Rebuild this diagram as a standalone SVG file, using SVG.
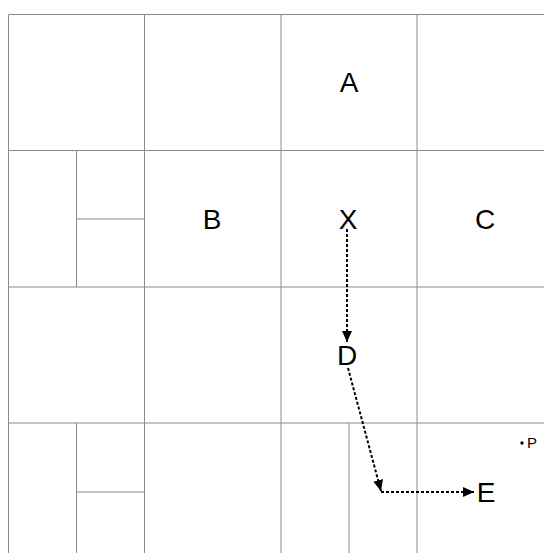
<svg xmlns="http://www.w3.org/2000/svg" width="544" height="553" viewBox="0 0 544 553">
<style>
.g{stroke:#8a8a8a;stroke-width:1;fill:none}
.lbl{font-family:"Liberation Sans",Arial,sans-serif;font-size:28px;fill:#000;text-anchor:middle}
.sm{font-family:"Liberation Sans",Arial,sans-serif;font-size:15px;fill:#000}
.c{stroke:#000;stroke-width:2;stroke-dasharray:3,2;fill:none;marker-end:url(#ah)}
</style>
<defs>
<marker id="ah" markerWidth="11" markerHeight="10" refX="11" refY="5" orient="auto" markerUnits="userSpaceOnUse">
<path d="M0,0 L11,5 L0,10 Z" fill="#000"/>
</marker>
</defs>
<rect width="544" height="553" fill="#fff"/>
<g id="grid">
<path class="g" d="M8.5,14.5H544 M8.5,150.5H544 M8.5,287H544 M8.5,423H544 M8.5,14.5V553 M144.5,14.5V553 M281,14.5V553 M417,14.5V553"/>
<path class="g" d="M76.5,150.5V287 M76.5,219H144.5 M76.5,423V553 M76.5,492H144.5 M349,423V553"/>
</g>
<g id="A"><text class="lbl" x="349" y="92">A</text></g>
<g id="B"><text class="lbl" x="212" y="229">B</text></g>
<g id="X"><text class="lbl" x="348" y="229">X</text></g>
<g id="C"><text class="lbl" x="485" y="229">C</text></g>
<g id="D"><text class="lbl" x="347" y="365">D</text></g>
<g id="E"><text class="lbl" x="486" y="502">E</text></g>
<g id="P"><circle cx="522" cy="443" r="1.7" fill="#000"/><text class="sm" x="527" y="448">P</text></g>
<g id="connectors">
<path class="c" d="M347,229 V342"/>
<path class="c" d="M348,368 L381,491"/>
<path class="c" d="M381,492 H474"/>
</g>
</svg>
